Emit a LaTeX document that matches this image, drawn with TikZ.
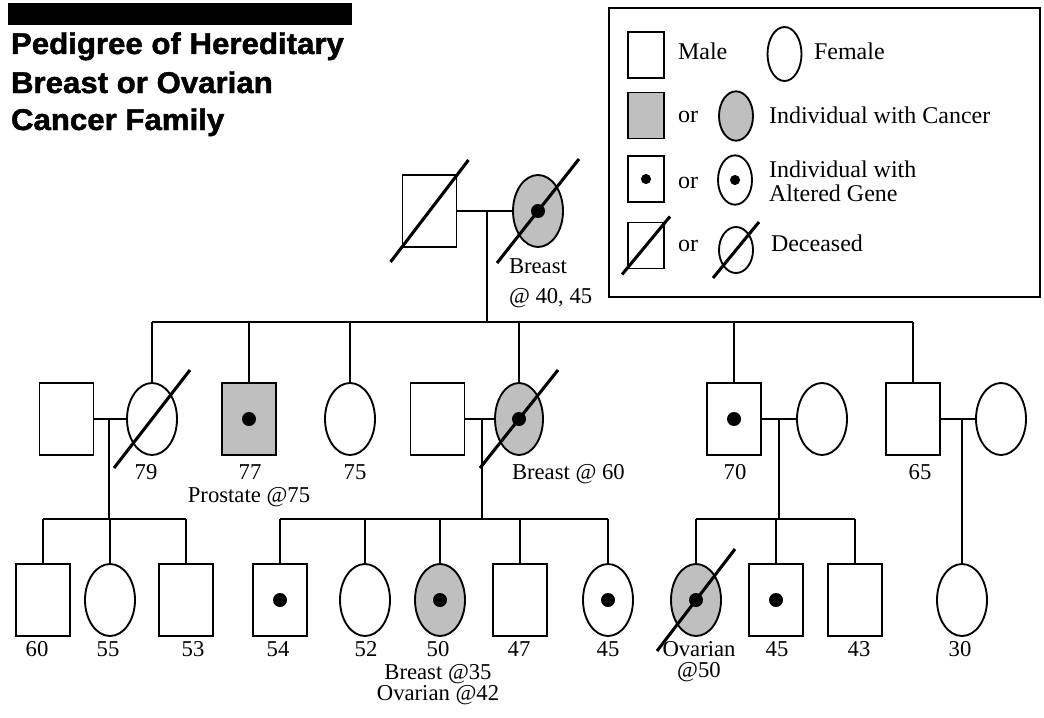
\documentclass[tikz,border=0pt]{standalone}
\usepackage{fontspec}
\setmainfont{Liberation Serif}
\newfontfamily\titlefont{Liberation Sans}[UprightFont={* Bold},FakeBold=1.5]
\usetikzlibrary{shapes.geometric}
\newcommand\gdot[2]{\fill (#1.center) circle[radius=#2];}
\newcommand\deadmark[3]{\draw[slashline] ([shift={(-#2,#3)}]#1.center) -- ([shift={(#2,-#3)}]#1.center);}
\begin{document}
\begin{tikzpicture}[x=0.75pt,y=-0.75pt,
  every node/.style={inner sep=0pt, outer sep=0pt},
  sym/.style={draw, line width=1.4pt},
  male/.style={sym, rectangle, minimum width=40.5pt, minimum height=54pt},
  female/.style={sym, ellipse, minimum width=37.5pt, minimum height=54pt},
  lmale/.style={sym, rectangle, minimum width=27pt, minimum height=34.5pt},
  lfemale/.style={sym, ellipse, minimum width=25.5pt, minimum height=37pt},
  aff/.style={fill=gray!50},
  conn/.style={line width=1.2pt},
  slashline/.style={line width=2.3pt},
  lab/.style={anchor=base, font=\fontsize{17}{17}\selectfont},
  leg/.style={anchor=base west, font=\fontsize{18}{18}\selectfont},
  ttl/.style={anchor=base west, font=\titlefont\fontsize{22.5}{22.5}\selectfont}]
\useasboundingbox (0,0) rectangle (1044,717);
\fill[white] (0,0) rectangle (1044,717);

% title
\fill[black] (8,3) rectangle (352,25);
\node[ttl] (t1) at (11,54) {\scalebox{1.04}[1]{Pedigree of Hereditary}};
\node[ttl] (t2) at (11,93) {\scalebox{1.04}[1]{Breast or Ovarian}};
\node[ttl] (t3) at (11,130) {\scalebox{1.04}[1]{Cancer Family}};

% legend
\draw[line width=1.2pt] (609,8) rectangle (1040,297);
\node[lmale] (lm1) at (646,55) {};
\node[lfemale, minimum height=40.5pt] (lf1) at (784.5,54) {};
\node[leg] (lt1) at (678,60) {Male};
\node[leg] (lt2) at (814,60) {Female};
\node[lmale, aff] (lm2) at (646,115.5) {};
\node[lfemale, aff] (lf2) at (736,116) {};
\node[leg] (lo2) at (678,122) {or};
\node[leg] (lt3) at (769,123) {Individual with Cancer};
\node[lmale] (lm3) at (646,179) {};
\gdot{lm3}{3.8pt}
\node[lfemale] (lf3) at (735,180) {};
\gdot{lf3}{3.8pt}
\node[leg] (lo3) at (678,188) {or};
\node[leg] (lt4) at (769,177) {Individual with};
\node[leg] (lt5) at (769,201) {Altered Gene};
\node[lmale] (lm4) at (646,245.5) {};
\deadmark{lm4}{24}{29}
\node[lfemale, minimum height=34.5pt] (lf4) at (736,250) {};
\deadmark{lf4}{23}{28}
\node[leg] (lo4) at (678,251) {or};
\node[leg] (lt6) at (771,251) {Deceased};

% generation 1
\node[male] (g1m) at (429.5,211) {};
\node[female, aff] (g1f) at (538,211) {};
\gdot{g1f}{5.25pt}
\deadmark{g1m}{39}{51}
\deadmark{g1f}{41}{52}
\draw[conn] (g1m.east) -- (g1f.west);
\coordinate (c1) at (487,211);
\coordinate (s1) at (487,322);
\draw[conn] (c1) -- (s1);
\node[lab, anchor=base west] (lg1a) at (509,273) {Breast};
\node[lab, anchor=base west] (lg1b) at (509,303) {@ 40, 45};

% generation 2
\node[male] (sp1) at (66.5,419) {};
\node[female] (f79) at (152,419) {};
\deadmark{f79}{38}{49}
\node[male, aff] (m77) at (249,419) {};
\gdot{m77}{5.25pt}
\node[female] (f75) at (350,419) {};
\node[male] (sp2) at (437.5,419) {};
\node[female, aff, minimum width=36pt] (fb60) at (519,419) {};
\gdot{fb60}{5.25pt}
\deadmark{fb60}{39}{49}
\node[male] (m70) at (734,419) {};
\gdot{m70}{5.25pt}
\node[female] (sp3) at (822,419) {};
\node[male] (m65) at (913,419) {};
\node[female] (sp4) at (1001,419) {};

\coordinate (s1L) at (152,322);
\coordinate (s1R) at (913,322);
\draw[conn] (s1L) -- (s1R);
\foreach \n in {f79,m77,f75,fb60,m70,m65}
  \draw[conn] (\n.north) -- (\n.north |- s1);

\draw[conn] (sp1.east) -- (f79.west);
\draw[conn] (sp2.east) -- (fb60.west);
\draw[conn] (m70.east) -- (sp3.west);
\draw[conn] (m65.east) -- (sp4.west);
\coordinate (c2) at (109,419);  \coordinate (s2) at (109,519);
\coordinate (c3) at (482,419);  \coordinate (s3) at (482,519);
\coordinate (c4) at (779,419);  \coordinate (s4) at (779,519);
\coordinate (c5) at (962,419);
\draw[conn] (c2) -- (s2);
\draw[conn] (c3) -- (s3);
\draw[conn] (c4) -- (s4);

\node[lab] (l79) at (146,479) {79};
\node[lab] (l77) at (250,479) {77};
\node[lab] (l75) at (355,479) {75};
\node[lab, anchor=base west] (lb60) at (512,479) {Breast @ 60};
\node[lab] (l70) at (735,479) {70};
\node[lab] (l65) at (920,479) {65};
\node[lab] (lpro) at (249,502) {Prostate @75};

% generation 3
\node[male] (m60) at (43,600) {};
\node[female] (f55) at (110,600) {};
\node[male] (m53) at (186,600) {};
\node[male] (m54) at (280,600) {};
\gdot{m54}{5.25pt}
\node[female] (f52) at (365,600) {};
\node[female, aff] (f50) at (440,600) {};
\gdot{f50}{5.25pt}
\node[male] (m47) at (520,600) {};
\node[female] (f45) at (608,600) {};
\gdot{f45}{5.25pt}
\node[female, aff] (fov) at (696,600) {};
\gdot{fov}{5.25pt}
\deadmark{fov}{39}{51}
\node[male] (m45) at (776,600) {};
\gdot{m45}{5.25pt}
\node[male] (m43) at (855,600) {};
\node[female] (f30) at (962,600) {};

\draw[conn] (m60.north |- s2) -- (m53.north |- s2);
\draw[conn] (m54.north |- s3) -- (f45.north |- s3);
\draw[conn] (fov.north |- s4) -- (m43.north |- s4);
\foreach \n in {m60,f55,m53}
  \draw[conn] (\n.north) -- (\n.north |- s2);
\foreach \n in {m54,f52,f50,m47,f45}
  \draw[conn] (\n.north) -- (\n.north |- s3);
\foreach \n in {fov,m45,m43}
  \draw[conn] (\n.north) -- (\n.north |- s4);
\draw[conn] (c5) -- (f30.north);

\node[lab] (l60) at (37,656) {60};
\node[lab] (l55) at (108,656) {55};
\node[lab] (l53) at (193,656) {53};
\node[lab] (l54) at (278,656) {54};
\node[lab] (l52) at (366,656) {52};
\node[lab] (l50) at (438,656) {50};
\node[lab] (l47) at (519,656) {47};
\node[lab] (l45a) at (608,656) {45};
\node[lab] (lov1) at (699,656) {Ovarian};
\node[lab] (lov2) at (699,677) {@50};
\node[lab] (l45b) at (777,656) {45};
\node[lab] (l43) at (859,656) {43};
\node[lab] (l30) at (960,656) {30};
\node[lab] (lbr35) at (438,679) {Breast @35};
\node[lab] (lov42) at (438,700) {Ovarian @42};
\end{tikzpicture}
\end{document}
